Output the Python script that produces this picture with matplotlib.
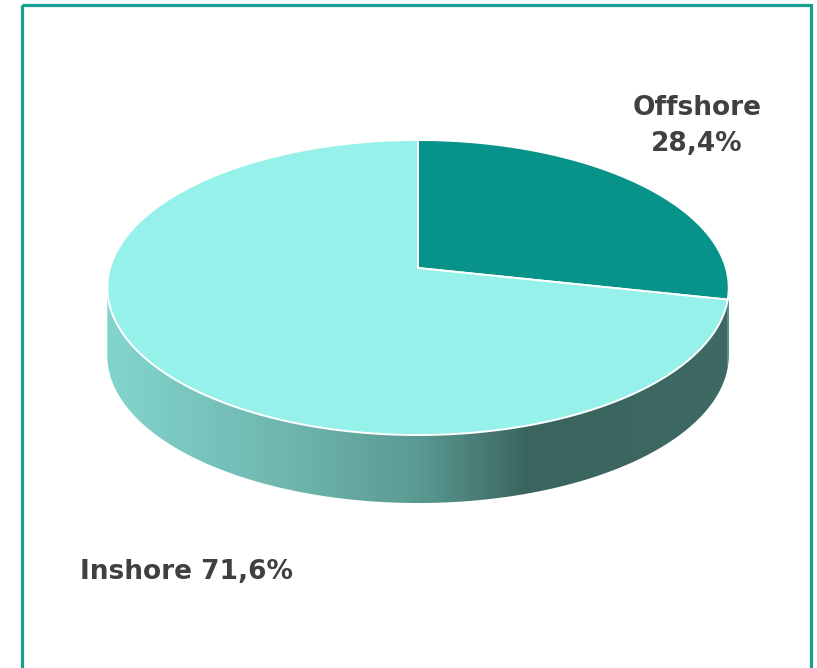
import numpy as np
import matplotlib.pyplot as plt
from matplotlib.patches import Polygon, Rectangle
from matplotlib.colors import LinearSegmentedColormap

labels = ['Offshore', 'Inshore']
shares = [28.4, 71.6]
top_colors = ['#07938a', '#95f1e9']
side_colors = ['#06736b', None]  # None -> gradient

W, H = 817, 668
cx, cy = 418, 268      # apex of the pie
rx = 308               # horizontal radius
a, c = 109.5, -0.1322  # perspective terms
depth = 68


def proj(t):
    # t = angle clockwise from top, radians
    u = np.sin(t)
    v = -np.cos(t)
    d = 1 + c * v
    return cx + rx * u / d, (a * v + cy) / d


fig = plt.figure(figsize=(W / 100, H / 100), dpi=100)
ax = fig.add_axes([0, 0, 1, 1])
ax.set_xlim(0, W)
ax.set_ylim(H, 0)
ax.axis('off')

# frame
ax.add_patch(Rectangle((22, 5), 789, 700, fill=False, ec='#17a092', lw=2.3, zorder=10))

# slice angles
fr = np.array(shares) / sum(shares)
edges = np.concatenate([[0], np.cumsum(fr)]) * 2 * np.pi

# visible side range (rightmost -> bottom -> leftmost)
t_r = np.arccos(c)             # rightmost silhouette
t_l = 2 * np.pi - np.arccos(c)  # leftmost silhouette

cmap = LinearSegmentedColormap.from_list('side', [
    (0.0, '#82d5cd'), (0.32, '#6cb3ab'), (0.5, '#5a9a93'), (0.68, '#3a645e'), (1.0, '#3e6a63')])

for i in range(len(shares)):
    lo = max(edges[i], t_r)
    hi = min(edges[i + 1], t_l)
    if hi <= lo:
        continue
    t = np.linspace(lo, hi, 200)
    x, y = proj(t)
    pts = np.vstack([np.column_stack([x, y]), np.column_stack([x[::-1], y[::-1] + depth])])
    if side_colors[i] is None:
        poly = Polygon(pts, closed=True, fc='none', ec='none')
        ax.add_patch(poly)
        grad = np.linspace(0, 1, 256).reshape(1, -1)
        im = ax.imshow(grad, cmap=cmap, extent=[107, 729, 120, 520], aspect='auto', zorder=1)
        im.set_clip_path(poly)
    else:
        ax.add_patch(Polygon(pts, closed=True, fc=side_colors[i], ec='none', zorder=1))

# top faces
for i in range(len(shares)):
    t = np.linspace(edges[i], edges[i + 1], 300)
    x, y = proj(t)
    pts = np.vstack([[cx, cy], np.column_stack([x, y])])
    ax.add_patch(Polygon(pts, closed=True, fc=top_colors[i], ec='white', lw=1.4,
                         joinstyle='miter', zorder=2))

txt = dict(color='#404040', fontweight='bold', fontsize=19, family='DejaVu Sans')
ax.text(697, 126, labels[0] + '\n' + f'{shares[0]:.1f}%'.replace('.', ','),
        ha='center', va='center', linespacing=1.5, **txt)
ax.text(80, 572, labels[1] + ' ' + f'{shares[1]:.1f}%'.replace('.', ','),
        ha='left', va='center', **txt)

fig.savefig('out.png', dpi=100)
